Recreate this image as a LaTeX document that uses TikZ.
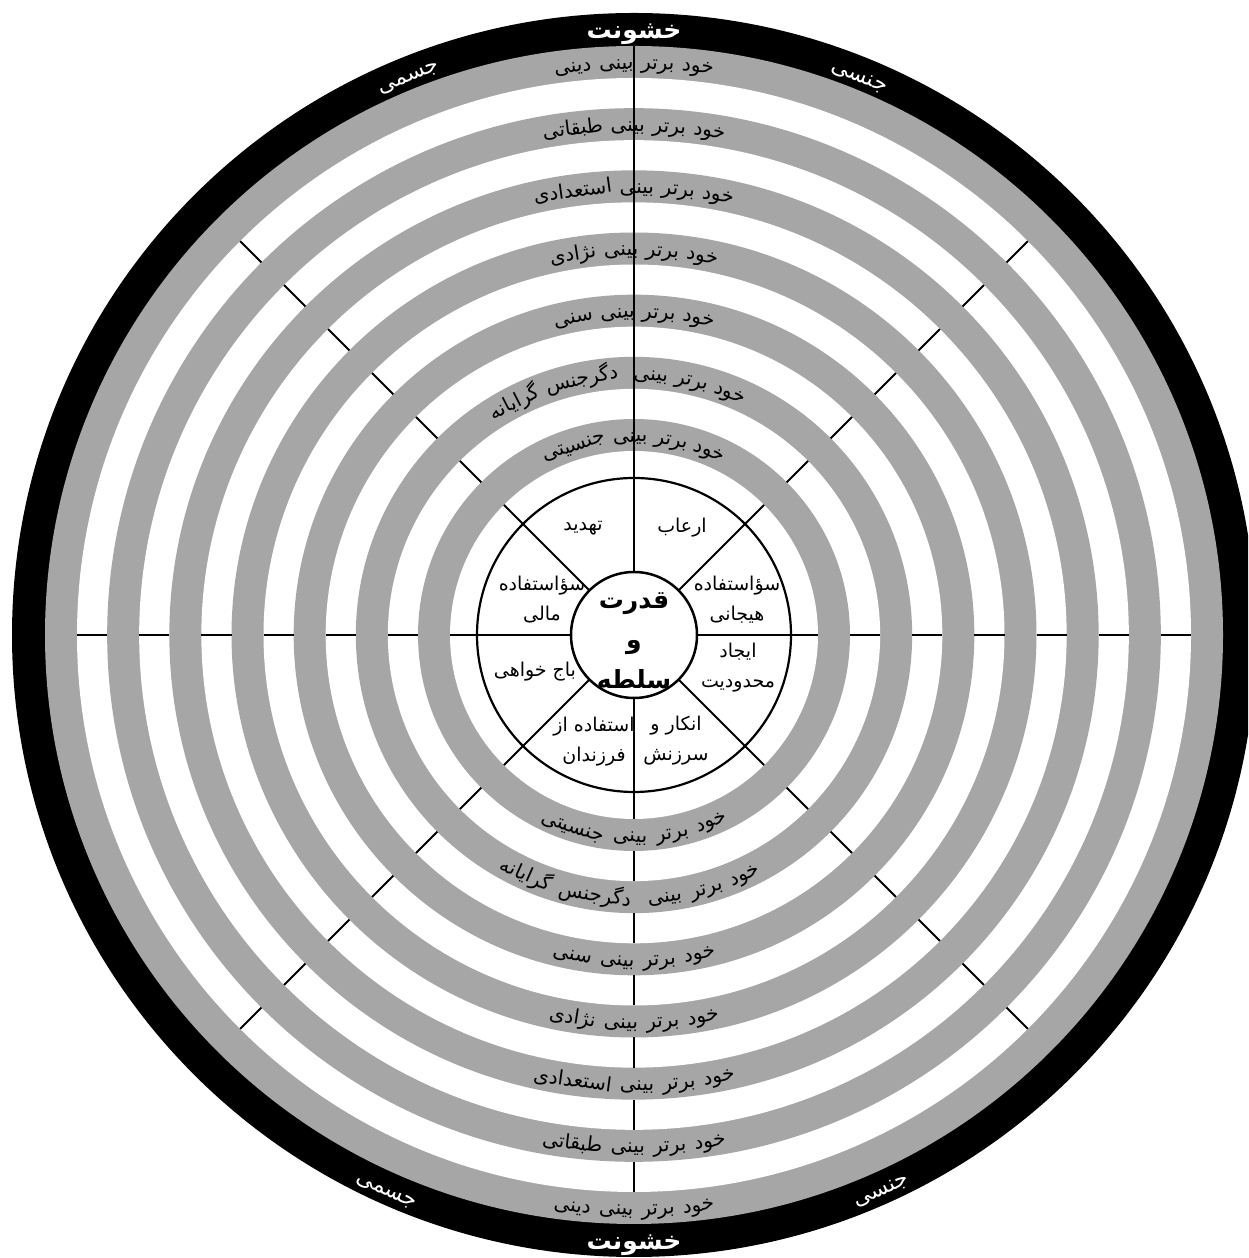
\documentclass[tikz,border=0pt]{standalone}
\usepackage{fontspec}
\TeXXeTstate=1
\newfontfamily\arabicfont[Script=Arabic]{DejaVu Sans}
\definecolor{ringgray}{RGB}{166,166,166}
\newcounter{wordc}
\newdimen\wordlen
\newcommand\fa[1]{\beginR #1\endR}
\def\arcspace{8}
\def\arcbase{6}
\def\emptyword{}
% measure a word: #1 size commands, #2 word; result in \wordW (e.g. 40.5pt)
\newcommand\measureword[2]{%
  \pgfinterruptpicture
    \setbox0=\hbox{\arabicfont#1\fa{#2}}%
    \global\wordlen=\wd0\relax
  \endpgfinterruptpicture
  \xdef\wordW{\the\wordlen}%
}
% #1 radius, #2 centre angle, #3 dir (1 top, -1 bottom), #4 size, #5 colour, #6 words (reading order; empty entry = extra gap)
\newcommand\arclabel[6]{%
  \gdef\arcTot{0}\gdef\arcN{0}%
  \foreach \w in {#6}{%
    \measureword{#4}{\w}%
    \pgfmathsetmacro\tmp{\arcTot+\wordW}\xdef\arcTot{\tmp}%
    \pgfmathsetmacro\tmp{\arcN+1}\xdef\arcN{\tmp}%
  }%
  \pgfmathsetmacro\arcW{\arcTot+(\arcN-1)*\arcspace}%
  \pgfmathsetmacro\arcStart{#2-(#3)*(\arcW/2)/(#1)*180/pi}%
  \gdef\arcS{0}%
  \foreach \w in {#6}{%
    \measureword{#4}{\w}%
    \ifx\w\emptyword\else
      \pgfmathsetmacro\ang{\arcStart+(#3)*(\arcS+\wordW/2)/(#1)*180/pi}%
      \pgfmathsetmacro\rot{\ang-90*(#3)}%
      \pgfmathsetmacro\rr{#1-(#3)*\arcbase}%
      \stepcounter{wordc}%
      \node[name=w\arabic{wordc}, rotate=\rot, anchor=base, text=#5, inner sep=0pt, font=\arabicfont#4] at (\ang:\rr) {\fa{\w}};
    \fi
    \pgfmathsetmacro\tmp{\arcS+\wordW+\arcspace}\xdef\arcS{\tmp}%
  }%
}
\tikzset{
  radial/.style={line width=2pt, black},
  sector/.style={font=\arabicfont\fontsize{19}{30}\selectfont, align=center, inner sep=0pt},
}
\begin{document}
\begin{tikzpicture}[x=1pt,y=1pt]
\useasboundingbox (0,0) rectangle (1248,1258);
\clip (0,0) rectangle (1248,1258);
\fill[white] (0,0) rectangle (1248,1258);
\begin{scope}[shift={(634,623)}]
  % rings
  \fill[black] (0,0) circle (622);
  \foreach \k in {0,...,6}{
    \pgfmathsetmacro\ro{589-62.17*\k}
    \pgfmathsetmacro\ri{\ro-32}
    \fill[ringgray] (0,0) circle (\ro);
    \fill[white] (0,0) circle (\ri);
  }
  % radial lines
  \foreach \a in {0,45,...,315} \draw[radial] (\a:63) -- (\a:184);
  \foreach \k in {0,...,5}{
    \pgfmathsetmacro\rin{589-62.17*(\k+1)}
    \pgfmathsetmacro\rout{589-62.17*\k-32}
    \foreach \a in {0,45,...,315} \draw[radial] (\a:\rin) -- (\a:\rout);
  }
  \draw[radial] (90:184) -- (90:589);
  % inner disk
  \draw[line width=2.2pt] (0,0) circle (157);
  \filldraw[fill=white, draw=black, line width=2.5pt] (0,0) circle (63);

  % centre text
  \node[name=centre, align=center, inner sep=0pt, font=\arabicfont\bfseries\fontsize{25}{40}\selectfont] at (0,-6) {\fa{قدرت}\\\fa{و}\\\fa{سلطه}};
  % sector texts
  \node[sector, name=s1] at (48,107) {\fa{ارعاب}};
  \node[sector, name=s2] at (-51,107) {\fa{تهدید}};
  \node[sector, name=s3] at (-92,35) {\fa{سؤاستفاده}\\\fa{مالی}};
  \node[sector, name=s4] at (-99,-37) {\fa{باج خواهی}};
  \node[sector, name=s5] at (-40,-107) {\fa{استفاده از}\\\fa{فرزندان}};
  \node[sector, name=s6] at (42,-106) {\fa{انکار و}\\\fa{سرزنش}};
  \node[sector, name=s7] at (104,-33) {\fa{ایجاد}\\\fa{محدودیت}};
  \node[sector, name=s8] at (103,35) {\fa{سؤاستفاده}\\\fa{هیجانی}};

  % black ring labels
  \def\arcbase{9}
  \arclabel{605}{90}{1}{\bfseries\fontsize{25}{28}\selectfont}{white}{خشونت}
  \arclabel{605}{270}{-1}{\bfseries\fontsize{25}{28}\selectfont}{white}{خشونت}
  \def\arcbase{8}
  \arclabel{605}{112}{1}{\fontsize{22}{24}\selectfont}{white}{جسمی}
  \arclabel{605}{68}{1}{\fontsize{22}{24}\selectfont}{white}{جنسی}
  \arclabel{605}{246}{-1}{\fontsize{22}{24}\selectfont}{white}{جسمی}
  \arclabel{605}{294}{-1}{\fontsize{22}{24}\selectfont}{white}{جنسی}

  % ring labels
  \def\arcbase{7}
  \foreach \dir/\cang/\cangb in {1/90/94,-1/270/269}{
    \arclabel{573}{\cang}{\dir}{\fontsize{20}{22}\selectfont}{black}{خود,برتر,بینی,دینی}
    \arclabel{510.8}{\cang}{\dir}{\fontsize{20}{22}\selectfont}{black}{خود,برتر,بینی,طبقاتی}
    \arclabel{448.7}{\cang}{\dir}{\fontsize{20}{22}\selectfont}{black}{خود,برتر,بینی,استعدادی}
    \arclabel{386.5}{\cang}{\dir}{\fontsize{20}{22}\selectfont}{black}{خود,برتر,بینی,نژادی}
    \arclabel{324.3}{\cang}{\dir}{\fontsize{20}{22}\selectfont}{black}{خود,برتر,بینی,سنی}
    \arclabel{262.2}{\cangb}{\dir}{\fontsize{20}{22}\selectfont}{black}{خود,برتر,بینی,,دگرجنس,گرایانه}
    \arclabel{200}{\cang}{\dir}{\fontsize{20}{22}\selectfont}{black}{خود,برتر,بینی,جنسیتی}
  }
\end{scope}
\end{tikzpicture}
\end{document}
